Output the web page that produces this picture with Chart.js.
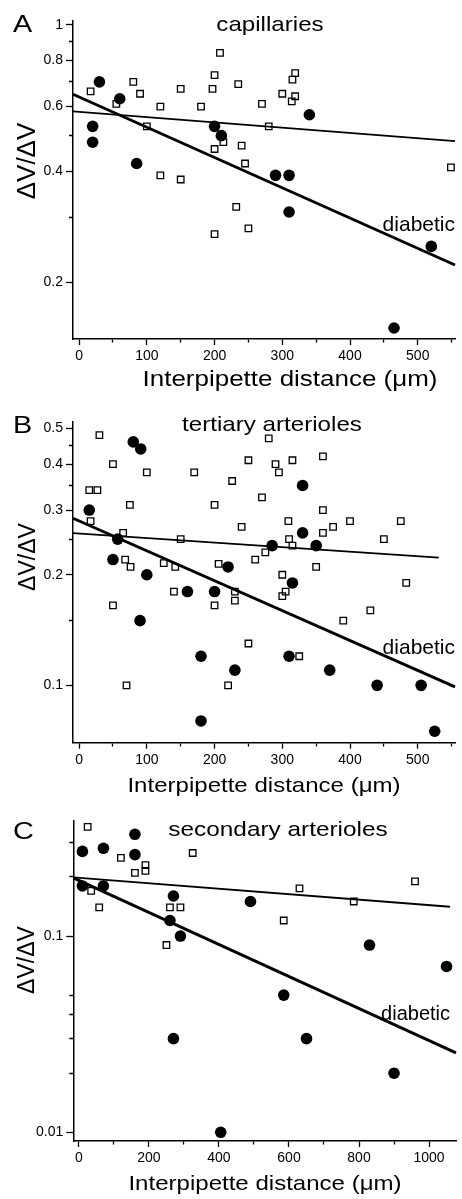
<!DOCTYPE html>
<html>
<head>
<meta charset="utf-8">
<script src="https://cdn.jsdelivr.net/npm/chart.js@4.4.1/dist/chart.umd.min.js"></script>
<style>
html,body{margin:0;padding:0;background:#fff;}
#wrap{position:relative;width:462px;height:1199px;overflow:hidden;background:#fff;font-family:"Liberation Sans",Arial,sans-serif;color:#000;}
.cv{position:absolute;left:0;width:462px;}
.cv canvas{display:block;}
.t{position:absolute;white-space:nowrap;line-height:1;color:#000;z-index:5;}
.c{transform-origin:50% 50%;}
.r{transform-origin:50% 50%;}
</style>
</head>
<body>
<div id="wrap">
  <div class="cv" style="top:0;height:400px"><canvas id="cA" width="462" height="400"></canvas></div>
  <div class="cv" style="top:400px;height:400px"><canvas id="cB" width="462" height="400"></canvas></div>
  <div class="cv" style="top:800px;height:399px"><canvas id="cC" width="462" height="399"></canvas></div>

  <div class="t" style="left:13px;top:11.7px;font-size:24px;transform:scaleX(1.2);transform-origin:0 0">A</div>
  <div class="t" style="left:13px;top:412.7px;font-size:24px;transform:scaleX(1.2);transform-origin:0 0">B</div>
  <div class="t" style="left:13px;top:818.7px;font-size:24px;transform:scaleX(1.2);transform-origin:0 0">C</div>

  <div class="t c" style="left:270px;top:12.5px;font-size:21px;transform:translateX(-50%) scaleX(1.15)">capillaries</div>
  <div class="t c" style="left:272px;top:412.5px;font-size:21px;transform:translateX(-50%) scaleX(1.15)">tertiary arterioles</div>
  <div class="t c" style="left:277.5px;top:817.5px;font-size:21px;transform:translateX(-50%) scaleX(1.16)">secondary arterioles</div>

  <div class="t c" style="left:290px;top:368.4px;font-size:22px;transform:translateX(-50%) scaleX(1.18)">Interpipette distance (μm)</div>
  <div class="t c" style="left:264px;top:774.2px;font-size:21px;transform:translateX(-50%) scaleX(1.145)">Interpipette distance (μm)</div>
  <div class="t c" style="left:265px;top:1172.2px;font-size:21px;transform:translateX(-50%) scaleX(1.145)">Interpipette distance (μm)</div>

  <div class="t r" style="left:26px;top:161px;font-size:26px;transform:translate(-50%,-50%) rotate(-90deg)">ΔV/ΔV</div>
  <div class="t r" style="left:26.5px;top:557px;font-size:23px;transform:translate(-50%,-50%) rotate(-90deg)">ΔV/ΔV</div>
  <div class="t r" style="left:26px;top:960px;font-size:23px;transform:translate(-50%,-50%) rotate(-90deg)">ΔV/ΔV</div>

  <div class="t" style="right:7px;top:213.2px;font-size:21px">diabetic</div>
  <div class="t" style="right:7px;top:636.2px;font-size:21px">diabetic</div>
  <div class="t" style="right:12px;top:1003.1px;font-size:20px">diabetic</div>
</div>

<script>
// ---------- Panel A: capillaries ----------
const xTicksA = [0, 50, 100, 150, 200, 250, 300, 350, 400, 450, 500, 550];
const xLabelsA = ['0', '', '100', '', '200', '', '300', '', '400', '', '500', ''];
const yTicksA = [0.2, 0.3, 0.4, 0.5, 0.6, 0.7, 0.8, 0.9, 1];
const yLabelsA = ['0.2', '', '0.4', '', '0.6', '', '0.8', '', '1'];
const controlA = [[17,0.66],[55,0.61],[80,0.70],[90,0.65],[100,0.53],[120,0.60],[120,0.39],[150,0.67],[150,0.38],
  [180,0.60],[197,0.67],[200,0.73],[208,0.84],[200,0.46],[213,0.48],[235,0.69],[240,0.47],[245,0.42],[270,0.61],
  [280,0.53],[300,0.65],[314,0.62],[315,0.71],[319,0.74],[319,0.64],[549,0.41],[232,0.32],[200,0.27],[250,0.28]];
const diabeticA = [[30,0.70],[60,0.63],[20,0.53],[20,0.48],[85,0.42],[200,0.53],[210,0.50],[340,0.57],[290,0.39],
  [310,0.39],[310,0.31],[520,0.25],[465,0.15]];
const fitControlA = [[-9,0.582],[555,0.4835]];
const fitDiabeticA = [[-9,0.648],[555,0.2225]];

// ---------- Panel B: tertiary arterioles ----------
const xTicksB = [0, 50, 100, 150, 200, 250, 300, 350, 400, 450, 500, 550];
const xLabelsB = ['0', '', '100', '', '200', '', '300', '', '400', '', '500', ''];
const yTicksB = [0.1, 0.15, 0.2, 0.25, 0.3, 0.35, 0.4, 0.45, 0.5];
const yLabelsB = ['0.1', '', '0.2', '', '0.3', '', '0.4', '', '0.5'];
const controlB = [[30,0.48],[50,0.40],[15,0.34],[27,0.34],[17,0.28],[75,0.31],[100,0.38],[65,0.26],[68,0.22],[76,0.21],
  [150,0.25],[170,0.38],[125,0.215],[142,0.21],[200,0.31],[206,0.214],[226,0.36],[240,0.27],[250,0.41],[260,0.22],
  [270,0.325],[280,0.47],[275,0.23],[290,0.40],[295,0.38],[309,0.28],[310,0.25],[315,0.24],[315,0.41],[300,0.20],
  [360,0.42],[360,0.30],[360,0.26],[350,0.21],[375,0.27],[400,0.28],[450,0.25],[475,0.28],[483,0.19],[140,0.18],
  [230,0.18],[230,0.17],[200,0.165],[50,0.165],[300,0.175],[305,0.18],[430,0.16],[390,0.15],[250,0.13],[325,0.12],
  [220,0.10],[70,0.10]];
const diabeticB = [[80,0.46],[91,0.44],[15,0.30],[57,0.25],[50,0.22],[100,0.20],[220,0.21],[285,0.24],[330,0.35],
  [330,0.26],[350,0.24],[315,0.19],[160,0.18],[200,0.18],[90,0.15],[180,0.12],[230,0.11],[310,0.12],[370,0.11],
  [440,0.10],[505,0.10],[180,0.08],[525,0.075]];
const fitControlB = [[-9,0.2595],[531,0.2226]];
const fitDiabeticB = [[-9,0.285],[555,0.099]];

// ---------- Panel C: secondary arterioles ----------
const xTicksC = [0, 100, 200, 300, 400, 500, 600, 700, 800, 900, 1000];
const xLabelsC = ['0', '', '200', '', '400', '', '600', '', '800', '', '1000'];
const yTicksC = [0.01, 0.02, 0.03, 0.04, 0.05, 0.1, 0.2, 0.3];
const yLabelsC = ['0.01', '', '', '', '', '0.1', '', ''];
const controlC = [[25,0.36],[120,0.25],[160,0.21],[190,0.23],[190,0.215],[325,0.265],[35,0.17],[58,0.14],[260,0.14],
  [290,0.14],[250,0.09],[630,0.175],[585,0.12],[785,0.15],[960,0.19]];
const diabeticC = [[10,0.27],[70,0.28],[160,0.33],[160,0.26],[10,0.18],[70,0.18],[270,0.16],[260,0.12],[290,0.10],
  [490,0.15],[830,0.09],[1050,0.07],[585,0.05],[270,0.03],[650,0.03],[900,0.02],[405,0.01]];
const fitControlC = [[-16,0.199],[1060,0.141]];
const fitDiabeticC = [[-16,0.198],[1077,0.0254]];

const FONT = '"Liberation Sans", Arial, sans-serif';
const pts = arr => arr.map(([x, y]) => ({x, y}));

function buildPanel(id, p) {
  const isMinor = c => c && c.tick && c.tick.label === '';
  return new Chart(document.getElementById(id), {
    type: 'scatter',
    data: {
      datasets: [
        {data: pts(p.fitDiab), showLine: true, borderColor: '#000', borderWidth: 3, pointRadius: 0, clip: false},
        {data: pts(p.fitCtrl), showLine: true, borderColor: '#000', borderWidth: 1.8, pointRadius: 0, clip: false},
        {data: pts(p.diab), showLine: false, pointStyle: 'circle', pointRadius: 5.8, backgroundColor: '#000', borderColor: '#000', borderWidth: 0, clip: false},
        {data: pts(p.ctrl), showLine: false, pointStyle: 'rect', pointRadius: 4.6, backgroundColor: 'rgba(255,255,255,0)', borderColor: '#000', borderWidth: 1.3, clip: false}
      ]
    },
    options: {
      responsive: false,
      animation: false,
      devicePixelRatio: 1,
      events: [],
      layout: {padding: {top: p.top, right: p.right, left: 0, bottom: 0}},
      plugins: {legend: {display: false}, tooltip: {enabled: false}, title: {display: false}},
      scales: {
        x: {
          type: 'linear', position: 'bottom', min: p.xmin, max: p.xmax, bounds: 'data',
          afterBuildTicks: s => { s.ticks = p.xTicks.map(v => ({value: v})); },
          afterFit: s => { s.height = p.xh; },
          ticks: {callback: (v, i) => p.xLabels[i], autoSkip: false, maxRotation: 0, minRotation: 0, padding: 3, color: '#000', font: {family: FONT, size: 14}},
          grid: {drawOnChartArea: false, drawTicks: true, tickLength: 6, tickColor: '#000', tickWidth: 1.3,
                 tickBorderDash: c => isMinor(c) ? [3, 100] : []},
          border: {display: true, color: '#000', width: 1.5}
        },
        y: {
          type: 'logarithmic', position: 'left', min: p.ymin, max: p.ymax, bounds: 'data',
          afterBuildTicks: s => { s.ticks = p.yTicks.map(v => ({value: v})); },
          afterFit: s => { s.width = p.yw; },
          ticks: {callback: (v, i) => p.yLabels[i], autoSkip: false, padding: 3, color: '#000', font: {family: FONT, size: 14}},
          grid: {drawOnChartArea: false, drawTicks: true, tickLength: 7, tickColor: '#000', tickWidth: 1.3,
                 tickBorderDash: c => isMinor(c) ? [0, 3, 4, 100] : []},
          border: {display: true, color: '#000', width: 1.5}
        }
      }
    }
  });
}

buildPanel('cA', {
  xTicks: xTicksA, xLabels: xLabelsA, yTicks: yTicksA, yLabels: yLabelsA,
  ctrl: controlA, diab: diabeticA, fitCtrl: fitControlA, fitDiab: fitDiabeticA,
  xmin: -9, xmax: 555, ymin: 0.14, ymax: 1.025,
  top: 21, right: 7, yw: 73, xh: 61
});
buildPanel('cB', {
  xTicks: xTicksB, xLabels: xLabelsB, yTicks: yTicksB, yLabels: yLabelsB,
  ctrl: controlB, diab: diabeticB, fitCtrl: fitControlB, fitDiab: fitDiabeticB,
  xmin: -9, xmax: 555, ymin: 0.0698, ymax: 0.522,
  top: 21.7, right: 7, yw: 73, xh: 57.3
});
buildPanel('cC', {
  xTicks: xTicksC, xLabels: xLabelsC, yTicks: yTicksC, yLabels: yLabelsC,
  ctrl: controlC, diab: diabeticC, fitCtrl: fitControlC, fitDiab: fitDiabeticC,
  xmin: -16, xmax: 1077, ymin: 0.00903, ymax: 0.387,
  top: 20.7, right: 6, yw: 73.3, xh: 58
});
</script>
</body>
</html>
